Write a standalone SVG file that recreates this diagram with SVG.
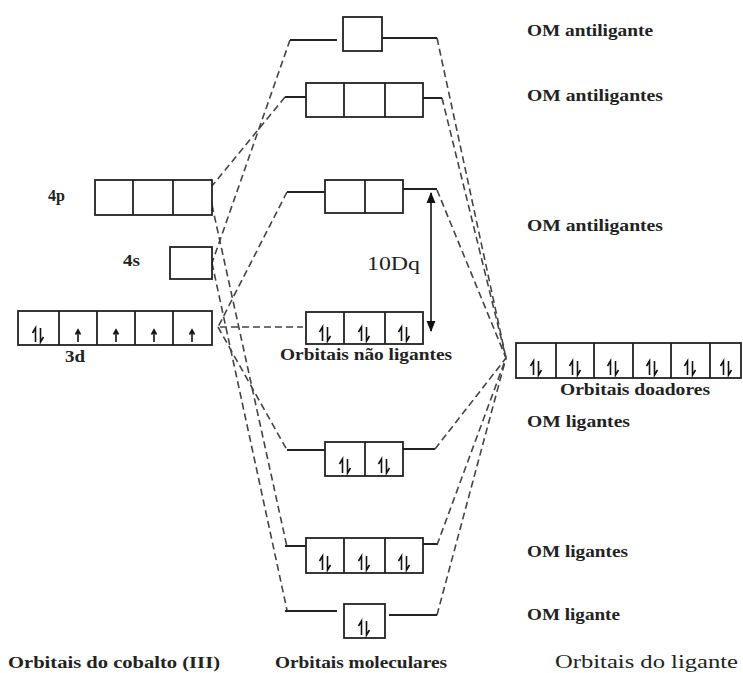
<svg xmlns="http://www.w3.org/2000/svg" xmlns:xlink="http://www.w3.org/1999/xlink" width="743" height="673" viewBox="0 0 743 673">
<style>
.box{fill:#fff;stroke:#222;stroke-width:1.8}
.div{stroke:#222;stroke-width:1.8}
.lvl{stroke:#222;stroke-width:2.2;fill:none}
.dash{stroke:#444;stroke-width:1.6;fill:none;stroke-dasharray:7 4}
.lbl{font-family:"Liberation Serif","Times New Roman",serif;font-weight:bold;font-size:17px;fill:#222}
.reg{font-family:"Liberation Serif","Times New Roman",serif;font-size:18px;fill:#222}
.e{stroke:#111;stroke-width:1.6;fill:none}
</style>
<defs>
<g id="pair"><path class="e" d="M-2.5,14 V0 L-5.5,5 M2.5,0 V14 L5.5,9"/></g>
<g id="up"><path class="e" d="M0,12 V0 M-2.5,4.5 L0,0 L2.5,4.5"/></g>
<marker id="ah" viewBox="0 0 10 10" refX="9" refY="5" markerWidth="7" markerHeight="7" orient="auto-start-reverse"><path d="M0,1 L10,5 L0,9 z" fill="#111"/></marker>
</defs>
<rect width="743" height="673" fill="#fff"/>

<g id="connectors">
<path class="dash" d="M290,40 L212,263"/>
<path class="dash" d="M285,97 L212,186"/>
<path class="dash" d="M287,192 L218,327"/>
<path class="dash" d="M212,205 L287,547"/>
<path class="dash" d="M212,263 L287,610"/>
<path class="dash" d="M218,327 L287,450"/>
<path class="dash" d="M220,327 L303,327"/>
<path class="dash" d="M437,38 L506,358"/>
<path class="dash" d="M442,98 L506,358"/>
<path class="dash" d="M437,190 L506,358"/>
<path class="dash" d="M435,449 L506,358"/>
<path class="dash" d="M437,545 L506,358"/>
<path class="dash" d="M437,615 L506,358"/>
</g>

<g id="dq">
<line x1="431" y1="193" x2="431" y2="331" stroke="#111" stroke-width="1.6" marker-start="url(#ah)" marker-end="url(#ah)"/>
<text class="reg" x="367" y="270" font-size="20" textLength="53" lengthAdjust="spacingAndGlyphs">10Dq</text>
</g>

<g id="m4p">
<rect class="box" x="95" y="180" width="117" height="35"/>
<path class="div" d="M133,180 V215 M173,180 V215"/>
<text class="lbl" x="48" y="201" textLength="17" lengthAdjust="spacingAndGlyphs">4p</text>
</g>
<g id="m4s">
<rect class="box" x="170" y="247" width="42" height="32"/>
<text class="lbl" x="123" y="266" textLength="17" lengthAdjust="spacingAndGlyphs">4s</text>
</g>
<g id="m3d">
<rect class="box" x="18" y="311" width="194" height="34"/>
<path class="div" d="M59,311 V345 M97,311 V345 M135,311 V345 M173,311 V345"/>
<use href="#pair" x="38" y="328"/>
<use href="#up" x="78" y="330"/>
<use href="#up" x="116" y="330"/>
<use href="#up" x="154" y="330"/>
<use href="#up" x="192" y="330"/>
<text class="lbl" x="65" y="362" textLength="20" lengthAdjust="spacingAndGlyphs">3d</text>
</g>

<g id="a1g_anti">
<path class="lvl" d="M290,40 H337 M382,38 H437"/>
<rect class="box" x="343" y="17" width="39" height="34"/>
</g>
<g id="t1u_anti">
<path class="lvl" d="M285,97 H306 M423,98 H442"/>
<rect class="box" x="306" y="83" width="117" height="34"/>
<path class="div" d="M344,83 V117 M385,83 V117"/>
</g>
<g id="eg_anti">
<path class="lvl" d="M287,192 H325 M403,189 H437"/>
<rect class="box" x="325" y="180" width="78" height="33"/>
<path class="div" d="M365,180 V213"/>
</g>
<g id="t2g">
<rect class="box" x="306" y="312" width="117" height="32"/>
<path class="div" d="M344,312 V344 M385,312 V344"/>
<use href="#pair" x="325" y="327"/>
<use href="#pair" x="364" y="327"/>
<use href="#pair" x="404" y="327"/>
<text class="lbl" x="280" y="360" textLength="172" lengthAdjust="spacingAndGlyphs">Orbitais não ligantes</text>
</g>
<g id="eg_bond">
<path class="lvl" d="M287,450 H325 M403,449 H435"/>
<rect class="box" x="325" y="442" width="78" height="34"/>
<path class="div" d="M365,442 V476"/>
<use href="#pair" x="345" y="459"/>
<use href="#pair" x="384" y="459"/>
</g>
<g id="t1u_bond">
<path class="lvl" d="M285,546 H306 M423,544 H437"/>
<rect class="box" x="306" y="538" width="117" height="35"/>
<path class="div" d="M344,538 V573 M385,538 V573"/>
<use href="#pair" x="325" y="556"/>
<use href="#pair" x="364" y="556"/>
<use href="#pair" x="404" y="556"/>
</g>
<g id="a1g_bond">
<path class="lvl" d="M285,611 H337 M389,615 H437"/>
<rect class="box" x="344" y="604" width="41" height="34"/>
<use href="#pair" x="364" y="621"/>
</g>

<g id="ligand">
<rect class="box" x="516" y="343" width="225" height="35"/>
<path class="div" d="M556,343 V378 M594,343 V378 M633,343 V378 M671,343 V378 M710,343 V378"/>
<use href="#pair" x="536" y="361"/>
<use href="#pair" x="575" y="361"/>
<use href="#pair" x="613" y="361"/>
<use href="#pair" x="652" y="361"/>
<use href="#pair" x="690" y="361"/>
<use href="#pair" x="726" y="361"/>
<text class="lbl" x="560" y="395" textLength="150" lengthAdjust="spacingAndGlyphs">Orbitais doadores</text>
</g>

<g id="labels">
<text class="lbl" x="527" y="36" textLength="126" lengthAdjust="spacingAndGlyphs">OM antiligante</text>
<text class="lbl" x="527" y="101" textLength="136" lengthAdjust="spacingAndGlyphs">OM antiligantes</text>
<text class="lbl" x="527" y="231" textLength="136" lengthAdjust="spacingAndGlyphs">OM antiligantes</text>
<text class="lbl" x="527" y="427" textLength="103" lengthAdjust="spacingAndGlyphs">OM ligantes</text>
<text class="lbl" x="527" y="557" textLength="101" lengthAdjust="spacingAndGlyphs">OM ligantes</text>
<text class="lbl" x="527" y="620" textLength="93" lengthAdjust="spacingAndGlyphs">OM ligante</text>
<text class="lbl" x="8" y="668" textLength="212" lengthAdjust="spacingAndGlyphs">Orbitais do cobalto (III)</text>
<text class="lbl" x="275" y="668" textLength="172" lengthAdjust="spacingAndGlyphs">Orbitais moleculares</text>
<text class="reg" x="555" y="668" textLength="183" lengthAdjust="spacingAndGlyphs">Orbitais do ligante</text>
</g>
</svg>
